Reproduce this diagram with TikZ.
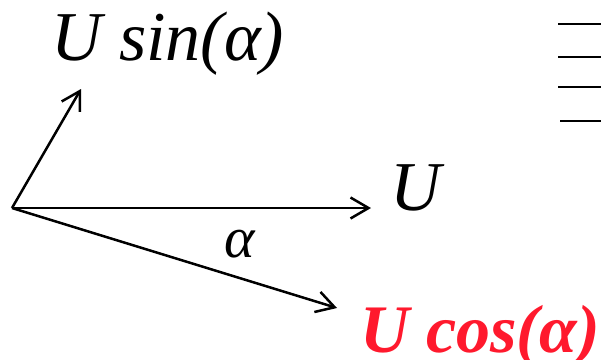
\documentclass[tikz,border=0pt]{standalone}
\usepackage{fontspec}
\setmainfont{Liberation Serif}
\usetikzlibrary{arrows.meta}
\definecolor{lblred}{RGB}{255,25,45}
\begin{document}
\begin{tikzpicture}[x=1pt,y=-1pt,
  vec/.style={line width=2.5pt,-{Straight Barb[length=18pt,width=21pt,line width=2.5pt]}},
  lbl/.style={inner sep=0pt,anchor=base west,font=\fontsize{70}{80}\selectfont\itshape},
  bar/.style={line width=2.2pt}]
\useasboundingbox (0,0) rectangle (601,359);
\coordinate (O) at (12,208);
\coordinate (Ts) at (81,89);
\coordinate (Tu) at (371,208);
\coordinate (Tc) at (337,308);
\draw[vec] (O) -- (Ts);
\draw[vec] (O) -- (Tu);
\draw[vec] (O) -- (Tc);
\node[lbl] (ls) at (51,60) {U sin(α)};
\node[lbl] (lu) at (390,210) {U};
\node[lbl,font=\fontsize{68}{80}\selectfont\bfseries\itshape,text=lblred] (lc) at (360,352) {U cos(α)};
\node[inner sep=0pt,anchor=base,font=\fontsize{58}{70}\selectfont\itshape] (la) at (240,257) {α};
\coordinate (b1) at (558,24); \coordinate (e1) at (601,24);
\coordinate (b2) at (558,57); \coordinate (e2) at (601,57);
\coordinate (b3) at (558,87); \coordinate (e3) at (601,87);
\coordinate (b4) at (560,121); \coordinate (e4) at (601,121);
\draw[bar] (b1) -- (e1);
\draw[bar] (b2) -- (e2);
\draw[bar] (b3) -- (e3);
\draw[bar] (b4) -- (e4);
\end{tikzpicture}
\end{document}
